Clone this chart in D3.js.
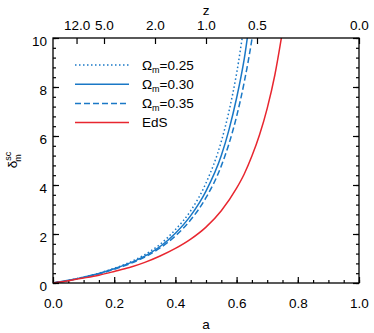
<!DOCTYPE html>
<html>
<head>
<meta charset="utf-8">
<script src="https://cdn.jsdelivr.net/npm/d3@7"></script>
<style>
    body { margin: 0; background: #fff; }
    svg { display: block; font-family: "Liberation Sans", Arial, sans-serif; }
    .axis text { font-size: 13.5px; fill: #000; }
    .axis path { display: none; }
    .axis line { stroke: #000; stroke-width: 1.2; }
</style>
</head>
<body>
<svg id="chart" width="374" height="333"></svg>
<script>
// scale factor a
var aEdS   = [0, 0.05, 0.1, 0.15, 0.2, 0.25, 0.3, 0.35, 0.4, 0.45, 0.5, 0.55, 0.6, 0.625, 0.65, 0.675, 0.7, 0.725, 0.75];
var dEdS   = [0, 0.09, 0.20, 0.32, 0.47, 0.63, 0.84, 1.10, 1.41, 1.79, 2.28, 2.95, 3.87, 4.45, 5.18, 6.05, 7.13, 8.49, 10.28];

var aLcdm  = [0, 0.05, 0.1, 0.15, 0.2, 0.25, 0.3, 0.35, 0.4, 0.45, 0.5, 0.55, 0.575, 0.6, 0.625, 0.65, 0.66];
var dOm25  = [0, 0.11, 0.24, 0.40, 0.60, 0.84, 1.16, 1.58, 2.18, 2.95, 4.08, 5.78, 7.00, 8.55, 10.5, 12.0, 12.5];
var dOm30  = [0, 0.11, 0.24, 0.39, 0.58, 0.81, 1.10, 1.49, 2.03, 2.75, 3.75, 5.20, 6.25, 7.55, 9.15, 11.3, 12.0];
var dOm35  = [0, 0.10, 0.23, 0.37, 0.56, 0.78, 1.06, 1.43, 1.92, 2.58, 3.48, 4.78, 5.68, 6.80, 8.20, 9.95, 10.8];

var xTicks = [0, 0.2, 0.4, 0.6, 0.8, 1.0];
var yTicks = [0, 2, 4, 6, 8, 10];
var zTicks = [12, 5, 2, 1, 0.5, 0];
var legendLabels = ['0.25', '0.30', '0.35', 'EdS'];

var blue = '#1a78c6', red = '#e8262f';

var svg = d3.select('#chart');
var plotL = 53, plotR = 359, plotT = 38, plotB = 283;

var x = d3.scaleLinear().domain([0, 1]).range([plotL, plotR]);
var y = d3.scaleLinear().domain([0, 10]).range([plotB, plotT]);

function minors(step, lo, hi) {
    var out = [];
    for (var v = lo; v <= hi + 1e-9; v += step) out.push(+v.toFixed(4));
    return out;
}

// bottom axis
svg.append('g').attr('class', 'axis').attr('transform', 'translate(0,' + plotB + ')')
    .call(d3.axisBottom(x).tickValues(xTicks).tickSize(-6).tickPadding(15).tickFormat(d3.format('.1f')));
svg.append('g').attr('class', 'axis').attr('transform', 'translate(0,' + plotB + ')')
    .call(d3.axisBottom(x).tickValues(minors(0.05, 0, 1)).tickSize(-3).tickFormat(''));

// top axis: redshift z, a = 1/(1+z)
svg.append('g').attr('class', 'axis').attr('transform', 'translate(0,' + plotT + ')')
    .call(d3.axisTop(x).tickValues(zTicks.map(function (z) { return 1 / (1 + z); }))
        .tickSize(-6).tickPadding(8)
        .tickFormat(function (d, i) { return d3.format('.1f')(zTicks[i]); }));

// left axis
var yl = svg.append('g').attr('class', 'axis').attr('transform', 'translate(' + plotL + ',0)')
    .call(d3.axisLeft(y).tickValues(yTicks).tickSize(-6).tickPadding(6));
yl.selectAll('text').attr('dy', '0.55em');
svg.append('g').attr('class', 'axis').attr('transform', 'translate(' + plotL + ',0)')
    .call(d3.axisLeft(y).tickValues(minors(0.4, 0, 10)).tickSize(-3).tickFormat(''));

// right axis (mirror)
svg.append('g').attr('class', 'axis').attr('transform', 'translate(' + plotR + ',0)')
    .call(d3.axisRight(y).tickValues(yTicks).tickSize(-6).tickFormat(''));
svg.append('g').attr('class', 'axis').attr('transform', 'translate(' + plotR + ',0)')
    .call(d3.axisRight(y).tickValues(minors(0.4, 0, 10)).tickSize(-3).tickFormat(''));

svg.append('clipPath').attr('id', 'clip').append('rect')
    .attr('x', plotL).attr('y', plotT).attr('width', plotR - plotL).attr('height', plotB - plotT);

var line = d3.line()
    .x(function (d) { return x(d[0]); })
    .y(function (d) { return y(d[1]); })
    .curve(d3.curveMonotoneX);

function pairs(xs, ys) { return xs.map(function (v, i) { return [v, ys[i]]; }); }

var series = [
    { data: pairs(aLcdm, dOm25), color: blue, dash: '1.5,2.5' },
    { data: pairs(aLcdm, dOm30), color: blue, dash: null },
    { data: pairs(aLcdm, dOm35), color: blue, dash: '6,3' },
    { data: pairs(aEdS, dEdS), color: red, dash: null }
];

var plot = svg.append('g').attr('clip-path', 'url(#clip)');
plot.selectAll('path.curve').data(series).enter().append('path')
    .attr('class', 'curve')
    .attr('d', function (d) { return line(d.data); })
    .attr('fill', 'none')
    .attr('stroke', function (d) { return d.color; })
    .attr('stroke-width', 1.5)
    .attr('stroke-dasharray', function (d) { return d.dash; });

// frame
svg.append('rect').attr('x', plotL).attr('y', plotT)
    .attr('width', plotR - plotL).attr('height', plotB - plotT)
    .attr('fill', 'none').attr('stroke', '#000').attr('stroke-width', 1.3);

// legend
var leg = svg.append('g').selectAll('g').data(series).enter().append('g')
    .attr('transform', function (d, i) { return 'translate(75,' + (65 + i * 19.2) + ')'; });
leg.append('line').attr('x1', 0).attr('x2', 54)
    .attr('stroke', function (d) { return d.color; })
    .attr('stroke-width', 1.5)
    .attr('stroke-dasharray', function (d) { return d.dash; });
var lt = leg.append('text').attr('x', 67).attr('dy', '0.36em')
    .style('font-size', '13.5px');
lt.each(function (d, i) {
    var t = d3.select(this);
    if (i < 3) {
        t.append('tspan').text('Ω');
        t.append('tspan').attr('dy', 3).style('font-size', '9px').text('m');
        t.append('tspan').attr('dy', -3).text('=' + legendLabels[i]);
    } else {
        t.text(legendLabels[i]);
    }
});

// axis titles
svg.append('text').attr('x', 206).attr('y', 329).attr('text-anchor', 'middle')
    .style('font-size', '13.5px').text('a');
svg.append('text').attr('x', 206).attr('y', 15).attr('text-anchor', 'middle')
    .style('font-size', '13.5px').text('z');
var yt = svg.append('text').attr('transform', 'translate(17,160) rotate(-90)')
    .attr('text-anchor', 'middle').style('font-size', '13.5px');
yt.append('tspan').text('δ');
yt.append('tspan').attr('dy', -6).style('font-size', '9px').text('sc');
yt.append('tspan').attr('dx', -10).attr('dy', 10).style('font-size', '9px').text('m');
</script>
</body>
</html>
